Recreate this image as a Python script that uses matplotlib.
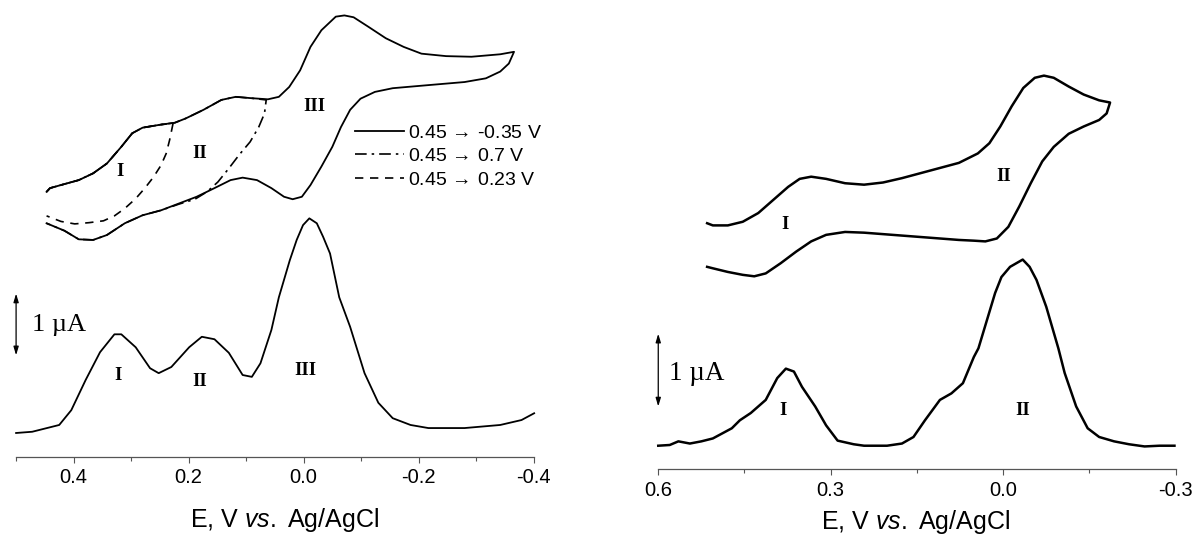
"""
Two panels: CV loops (top) and DPV (bottom) on a shared potential axis.
Current is in uA with an arbitrary offset; no y axis, only a 1 uA scale bar.
"""
import matplotlib.pyplot as plt
from matplotlib.ticker import MultipleLocator, FormatStrFormatter

plt.rcParams['font.family'] = ['Liberation Sans', 'DejaVu Sans']
plt.rcParams['axes.unicode_minus'] = False
plt.rcParams['mathtext.fontset'] = 'custom'
plt.rcParams['mathtext.rm'] = 'Liberation Sans'
plt.rcParams['mathtext.it'] = 'Liberation Sans:italic'

SERIF = ['Liberation Serif', 'DejaVu Serif']

# ---------------- left panel ----------------
# DPV
dpv1_E = [0.500, 0.472, 0.425, 0.404, 0.379, 0.354, 0.329, 0.317, 0.292, 0.267, 0.252,
          0.230, 0.199, 0.177, 0.155, 0.130, 0.106, 0.090, 0.075, 0.056, 0.043, 0.024,
          0.012, 0.001, -0.010, -0.023, -0.034, -0.046, -0.062, -0.081, -0.106, -0.130,
          -0.155, -0.186, -0.217, -0.280, -0.342, -0.379, -0.401]
dpv1_i = [0.00, 0.02, 0.13, 0.37, 0.86, 1.31, 1.60, 1.60, 1.39, 1.05, 0.97,
          1.07, 1.39, 1.56, 1.52, 1.30, 0.94, 0.91, 1.13, 1.67, 2.20, 2.80,
          3.13, 3.37, 3.48, 3.40, 3.18, 2.91, 2.20, 1.72, 0.97, 0.49,
          0.24, 0.13, 0.08, 0.08, 0.13, 0.21, 0.32]

# CV 0.45 -> -0.35 V, forward (upper) branch
cv1_up_E = [0.447, 0.441, 0.422, 0.391, 0.366, 0.342, 0.317, 0.298, 0.280, 0.248, 0.224,
            0.205, 0.174, 0.143, 0.118, 0.093, 0.062, 0.043, 0.025, 0.006, -0.012, -0.031,
            -0.056, -0.071, -0.087, -0.112, -0.143, -0.174, -0.205, -0.248, -0.292, -0.342,
            -0.366]
cv1_up_i = [3.91, 3.97, 4.02, 4.10, 4.21, 4.37, 4.64, 4.86, 4.95, 5.00, 5.03,
            5.10, 5.24, 5.40, 5.45, 5.43, 5.41, 5.45, 5.61, 5.88, 6.26, 6.53,
            6.75, 6.77, 6.74, 6.59, 6.40, 6.26, 6.15, 6.11, 6.10, 6.14,
            6.18]
# reverse (lower) branch
cv1_dn_E = [-0.366, -0.357, -0.342, -0.317, -0.280, -0.217, -0.155, -0.124, -0.099, -0.081,
            -0.065, -0.050, -0.031, -0.012, 0.003, 0.019, 0.034, 0.056, 0.081, 0.106,
            0.127, 0.155, 0.186, 0.217, 0.248, 0.280, 0.311, 0.342, 0.366, 0.391,
            0.416, 0.447]
cv1_dn_i = [6.18, 5.99, 5.86, 5.75, 5.69, 5.64, 5.59, 5.53, 5.42, 5.24,
            4.96, 4.64, 4.32, 4.02, 3.83, 3.79, 3.83, 3.97, 4.10, 4.14,
            4.10, 3.97, 3.83, 3.72, 3.61, 3.53, 3.40, 3.21, 3.13, 3.14,
            3.28, 3.40]
# switching branches of the shorter scans
cv1_dd_E = [0.065, 0.068, 0.078, 0.093, 0.112, 0.130, 0.149, 0.168, 0.189, 0.217]
cv1_dd_i = [5.40, 5.18, 4.96, 4.72, 4.51, 4.29, 4.07, 3.91, 3.79, 3.71]
cv1_da_E = [0.227, 0.233, 0.239, 0.248, 0.261, 0.276, 0.292, 0.311, 0.329, 0.348,
            0.373, 0.398, 0.422, 0.447]
cv1_da_i = [5.02, 4.75, 4.53, 4.34, 4.15, 3.97, 3.80, 3.64, 3.52, 3.44,
            3.41, 3.39, 3.43, 3.52]

scan_labels = [r'0.45$\,\rightarrow\,$-0.35 V', r'0.45$\,\rightarrow\,$0.7 V',
               r'0.45$\,\rightarrow\,$0.23 V']

cv1_peak_names = ['I', 'II', 'III']
cv1_peak_E = [0.319, 0.180, -0.019]
cv1_peak_i = [4.24, 4.53, 5.29]
dpv1_peak_E = [0.323, 0.180, -0.003]
dpv1_peak_i = [0.94, 0.83, 1.02]

# ---------------- right panel ----------------
dpv2_E = [0.600, 0.580, 0.565, 0.545, 0.525, 0.505, 0.472, 0.458, 0.439, 0.413, 0.393,
          0.378, 0.364, 0.350, 0.327, 0.308, 0.288, 0.260, 0.242, 0.202, 0.176, 0.156,
          0.136, 0.110, 0.090, 0.070, 0.051, 0.043, 0.014, 0.003, -0.012, -0.034,
          -0.046, -0.058, -0.075, -0.096, -0.107, -0.127, -0.147, -0.167, -0.193, -0.219,
          -0.246, -0.272, -0.298]
dpv2_i = [0.00, 0.01, 0.06, 0.03, 0.06, 0.10, 0.24, 0.35, 0.45, 0.63, 0.93,
          1.06, 1.02, 0.81, 0.54, 0.28, 0.07, 0.02, 0.00, 0.00, 0.03, 0.12,
          0.35, 0.63, 0.72, 0.86, 1.22, 1.34, 2.10, 2.32, 2.46, 2.56,
          2.46, 2.28, 1.91, 1.34, 1.00, 0.54, 0.24, 0.12, 0.06, 0.02,
          -0.01, 0.00, 0.00]

cv2_up_E = [0.515, 0.505, 0.479, 0.453, 0.426, 0.400, 0.374, 0.354, 0.334, 0.308, 0.275,
            0.242, 0.209, 0.176, 0.143, 0.110, 0.077, 0.044, 0.024, 0.005, -0.015, -0.035,
            -0.055, -0.071, -0.088, -0.114, -0.140, -0.167, -0.186]
cv2_up_i = [3.06, 3.03, 3.03, 3.08, 3.20, 3.38, 3.56, 3.67, 3.70, 3.67, 3.61,
            3.59, 3.62, 3.68, 3.75, 3.82, 3.89, 4.02, 4.16, 4.39, 4.67, 4.92,
            5.06, 5.09, 5.06, 4.94, 4.83, 4.75, 4.72]
cv2_dn_E = [-0.186, -0.180, -0.167, -0.140, -0.114, -0.088, -0.068, -0.048, -0.028, -0.009,
            0.011, 0.031, 0.051, 0.077, 0.110, 0.143, 0.176, 0.209, 0.242, 0.275,
            0.308, 0.334, 0.360, 0.387, 0.413, 0.433, 0.453, 0.479, 0.505, 0.515]
cv2_dn_i = [4.72, 4.57, 4.48, 4.39, 4.29, 4.11, 3.91, 3.61, 3.29, 3.01,
            2.85, 2.81, 2.82, 2.83, 2.85, 2.87, 2.89, 2.91, 2.93, 2.94,
            2.90, 2.81, 2.67, 2.51, 2.37, 2.33, 2.35, 2.39, 2.44, 2.46]

cv2_peak_names = ['I', 'II']
cv2_peak_E = [0.380, -0.001]
cv2_peak_i = [3.04, 3.70]
dpv2_peak_E = [0.383, -0.034]
dpv2_peak_i = [0.49, 0.49]

xlabel = r'E, V $\mathit{vs.}$ Ag/AgCl'


def style_axis(ax, major, minor):
	for side in ['left', 'right', 'top']:
		ax.spines[side].set_visible(False)
	ax.spines['bottom'].set_color('#555555')
	ax.spines['bottom'].set_linewidth(0.9)
	ax.set_yticks([])
	ax.xaxis.set_major_locator(MultipleLocator(major))
	ax.xaxis.set_minor_locator(MultipleLocator(minor))
	ax.xaxis.set_major_formatter(FormatStrFormatter('%.1f'))
	ax.tick_params(axis='x', which='major', direction='out', length=4.5, width=0.8,
	               color='#555555', labelsize=14.5, pad=4)
	ax.tick_params(axis='x', which='minor', direction='out', length=3, width=0.8,
	               color='#555555')


def scale_bar(ax, x, y0, text_x, text_y, size):
	ax.annotate('', xy=(x, y0), xytext=(x, y0 + 1.0),
	            arrowprops=dict(arrowstyle='<|-|>,head_length=0.5,head_width=0.15',
	                            lw=0.9, color='black', shrinkA=0, shrinkB=0))
	ax.text(text_x, text_y, '1 \u00b5A', family=SERIF, fontsize=size,
	        ha='left', va='center')


fig = plt.figure(figsize=(11.94, 5.35), dpi=100)

# ---- left ----
ax1 = fig.add_axes([0.01348, 0.1464, 0.4334, 0.8536])
ax1.set_xlim(0.5, -0.4)
ax1.set_ylim(-0.384, 7.02)
style_axis(ax1, 0.2, 0.1)

ax1.plot(dpv1_E, dpv1_i, color='black', lw=1.3, clip_on=False)

solid_E = cv1_up_E + cv1_dn_E
solid_i = cv1_up_i + cv1_dn_i
l_solid, = ax1.plot(solid_E, solid_i, color='black', lw=1.3, clip_on=False)

dd_E = [e for e in cv1_up_E if e > 0.065] + cv1_dd_E + [e for e in cv1_dn_E if e > 0.22]
dd_i = ([c for e, c in zip(cv1_up_E, cv1_up_i) if e > 0.065] + cv1_dd_i
        + [c for e, c in zip(cv1_dn_E, cv1_dn_i) if e > 0.22])
l_dd, = ax1.plot(dd_E, dd_i, color='black', lw=1.2, ls=(0, (7, 3, 1.5, 3)), clip_on=False)

da_E = [e for e in cv1_up_E if e > 0.227] + cv1_da_E
da_i = [c for e, c in zip(cv1_up_E, cv1_up_i) if e > 0.227] + cv1_da_i
l_da, = ax1.plot(da_E, da_i, color='black', lw=1.2, ls=(0, (5, 4)), clip_on=False)

ax1.legend([l_solid, l_dd, l_da], scan_labels, loc='upper left',
           bbox_to_anchor=(0.655, 0.728), frameon=False, fontsize=14,
           handlelength=2.5, handletextpad=0.2, labelspacing=0.3,
           borderpad=0, borderaxespad=0)

for name, e, c in zip(cv1_peak_names, cv1_peak_E, cv1_peak_i):
	ax1.text(e, c, name, family=SERIF, fontweight='bold', fontsize=13.5,
	         ha='center', va='center')
for name, e, c in zip(cv1_peak_names, dpv1_peak_E, dpv1_peak_i):
	ax1.text(e, c, name, family=SERIF, fontweight='bold', fontsize=13.5,
	         ha='center', va='center')

scale_bar(ax1, 0.5, 1.26, 0.472, 1.75, 19)

ax1.set_xlabel(xlabel, fontsize=18)
ax1.xaxis.set_label_coords(0.519, -0.154)
ax1.xaxis.label.set_verticalalignment('baseline')

# ---- right ----
ax2 = fig.add_axes([0.5513, 0.1234, 0.4333, 0.8766])
ax2.set_xlim(0.6, -0.3)
ax2.set_ylim(-0.32, 6.13)
style_axis(ax2, 0.3, 0.15)

ax2.plot(dpv2_E, dpv2_i, color='black', lw=1.8, clip_on=False)
ax2.plot(cv2_up_E + cv2_dn_E, cv2_up_i + cv2_dn_i, color='black', lw=1.8, clip_on=False)

for name, e, c in zip(cv2_peak_names, cv2_peak_E, cv2_peak_i):
	ax2.text(e, c, name, family=SERIF, fontweight='bold', fontsize=13.5,
	         ha='center', va='center')
for name, e, c in zip(cv2_peak_names, dpv2_peak_E, dpv2_peak_i):
	ax2.text(e, c, name, family=SERIF, fontweight='bold', fontsize=13.5,
	         ha='center', va='center')

scale_bar(ax2, 0.6, 0.54, 0.581, 1.0, 19.5)

ax2.set_xlabel(xlabel, fontsize=18)
ax2.xaxis.set_label_coords(0.498, -0.128)
ax2.xaxis.label.set_verticalalignment('baseline')

plt.savefig('out.png', dpi=100)
